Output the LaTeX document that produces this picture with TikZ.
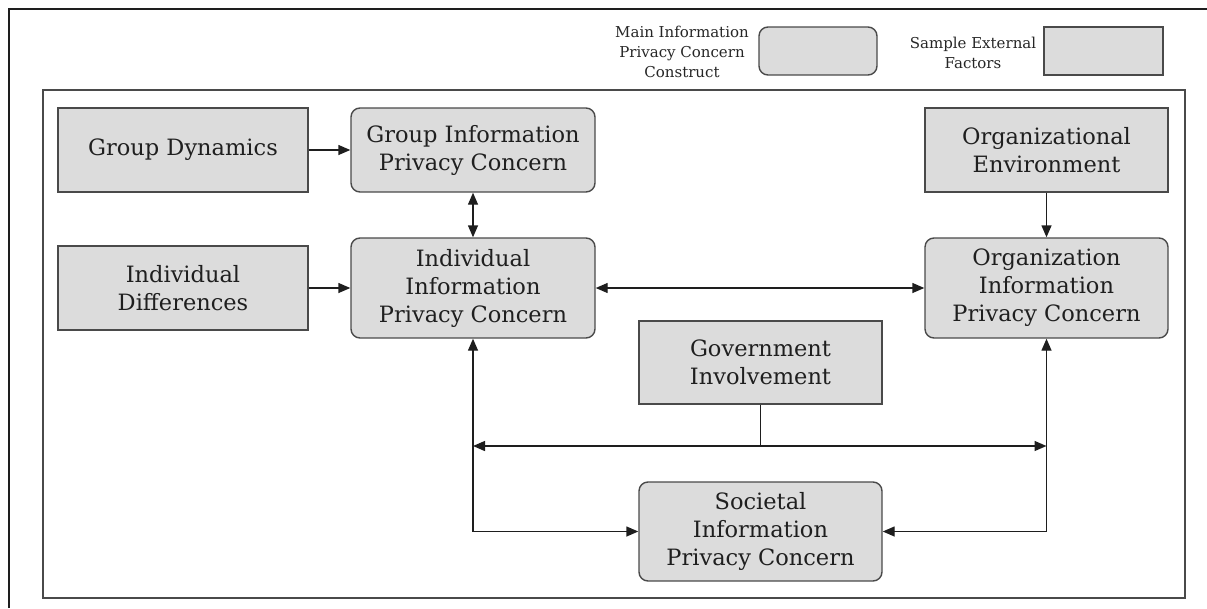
\documentclass[tikz,border=0pt]{standalone}
\usepackage{fontspec}
\setmainfont{DejaVu Serif}
\usetikzlibrary{arrows.meta}
\definecolor{boxgray}{HTML}{DCDCDC}
\definecolor{bordergray}{HTML}{4A4A4A}
\definecolor{linegray}{HTML}{1E1E1E}
\begin{document}
\begin{tikzpicture}[x=1pt,y=-1pt,
  extbox/.style={rectangle, fill=boxgray, draw=bordergray, line width=1.4pt, inner sep=0pt, align=center,
    font=\fontsize{22.5}{28}\selectfont, text=black!88},
  mainbox/.style={extbox, rounded corners=9pt},
  conn/.style={draw=linegray, line width=1.4pt},
  arr/.style={conn, -{Triangle[length=12pt,width=10pt]}},
  arrtwo/.style={conn, {Triangle[length=12pt,width=10pt]}-{Triangle[length=12pt,width=10pt]}},
  legtext/.style={align=center, font=\fontsize{15}{20}\selectfont, text=black!85, inner sep=0pt}
]
\useasboundingbox (0,0) rectangle (1207,608);
% frames
\draw[draw=linegray, line width=1.2pt] (9,608) -- (9,9) -- (1207,9);
\draw[draw=bordergray, line width=1.2pt] (43,90) rectangle (1185,598);
% legend
\node[legtext] (legmaintxt) at (682,52) {Main Information\\Privacy Concern\\Construct};
\node[mainbox, minimum width=118pt, minimum height=48pt] (legmain) at (818,51) {};
\node[legtext] (legexttxt) at (973,53) {Sample External\\Factors};
\node[extbox, minimum width=119pt, minimum height=48pt] (legext) at (1103.5,51) {};
% nodes
\node[extbox, minimum width=250pt, minimum height=84pt] (gd) at (183,150) {Group Dynamics};
\node[mainbox, minimum width=244pt, minimum height=84pt] (gipc) at (473,150) {Group Information\\Privacy Concern};
\node[extbox, minimum width=250pt, minimum height=84pt] (id) at (183,288) {Individual\\Differences};
\node[mainbox, minimum width=244pt, minimum height=100pt] (iipc) at (473,288) {Individual\\Information\\Privacy Concern};
\node[extbox, minimum width=243pt, minimum height=84pt] (oe) at (1046.5,150) {Organizational\\Environment};
\node[mainbox, minimum width=243pt, minimum height=100pt] (oipc) at (1046.5,288) {Organization\\Information\\Privacy Concern};
\node[extbox, minimum width=243pt, minimum height=83pt] (gov) at (760.5,362.5) {Government\\Involvement};
\node[mainbox, minimum width=243pt, minimum height=99pt] (soc) at (760.5,531.5) {Societal\\Information\\Privacy Concern};
% bus coordinates
\coordinate (busL) at (473,446);
\coordinate (busR) at (1046.5,446);
\coordinate (busM) at (760.5,446);
% connectors
\draw[arr] (gd) -- (gipc);
\draw[arr] (id) -- (iipc);
\draw[arrtwo] (gipc) -- (iipc);
\draw[arrtwo] (iipc) -- (oipc);
\draw[arr] (oe) -- (oipc);
\draw[conn] (gov.south) -- (busM);
\draw[arrtwo] (busL) -- (busR);
\draw[arrtwo] (iipc.south) |- (soc.west);
\draw[arrtwo] (oipc.south) |- (soc.east);
\end{tikzpicture}
\end{document}
